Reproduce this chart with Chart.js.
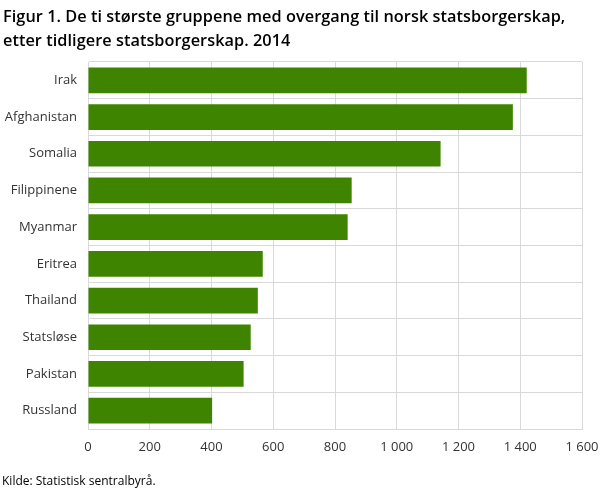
<!DOCTYPE html>
<html>
<head>
<meta charset="utf-8">
<script src="https://cdn.jsdelivr.net/npm/chart.js@4"></script>
<style>
  body { margin: 0; width: 609px; height: 489px; position: relative; background: #fff; font-family: "Open Sans", sans-serif; overflow: hidden; }
  #title { position: absolute; left: 3px; top: 4px; font-size: 16.3px; font-weight: 600; line-height: 24px; color: #000; letter-spacing: 0.05px; }
  #source { position: absolute; left: 2px; top: 472px; font-size: 12px; color: #000; }
  #wrap { position: absolute; left: 0; top: 0; width: 609px; height: 489px; }
</style>
</head>
<body>
<div id="wrap"><canvas id="chart"></canvas></div>
<div id="title">Figur 1. De ti største gruppene med overgang til norsk statsborgerskap,<br>etter tidligere statsborgerskap. 2014</div>
<div id="source">Kilde: Statistisk sentralbyrå.</div>
<script>
const countries = ['Irak', 'Afghanistan', 'Somalia', 'Filippinene', 'Myanmar', 'Eritrea', 'Thailand', 'Statsløse', 'Pakistan', 'Russland'];
const persons = [1421, 1376, 1142, 854, 841, 566, 550, 527, 504, 402];
const xTicks = [0, 200, 400, 600, 800, 1000, 1200, 1400, 1600];

const gridColor = '#d9d9d9';

document.addEventListener('DOMContentLoaded', function() {
  const ctx = document.getElementById('chart').getContext('2d');
  new Chart(ctx, {
    type: 'bar',
    data: {
      labels: countries,
      datasets: [{
        data: persons,
        backgroundColor: '#3f8400',
        barPercentage: 0.7,
        categoryPercentage: 1
      }]
    },
    options: {
      indexAxis: 'y',
      responsive: true,
      maintainAspectRatio: false,
      animation: false,
      layout: { padding: { top: 62, right: 27, bottom: 30, left: 0 } },
      plugins: {
        legend: { display: false },
        tooltip: { enabled: false }
      },
      scales: {
        x: {
          min: 0,
          max: 1600,
          afterBuildTicks: function(scale) {
            scale.ticks = xTicks.map(v => ({ value: v }));
          },
          afterFit: function(scale) { scale.height = 30; },
          grid: { color: gridColor, drawTicks: false },
          border: { color: gridColor },
          ticks: {
            padding: 10,
            color: '#333',
            font: { family: 'Open Sans', size: 13 },
            callback: v => v.toLocaleString('nb-NO').replace(/\s/g, ' ')
          }
        },
        y: {
          afterFit: function(scale) { scale.width = 88; },
          grid: { color: gridColor, drawTicks: false, offset: true },
          border: { color: gridColor },
          ticks: {
            padding: 11,
            color: '#333',
            font: { family: 'Open Sans', size: 13 }
          }
        }
      }
    }
  });
});
</script>
</body>
</html>
